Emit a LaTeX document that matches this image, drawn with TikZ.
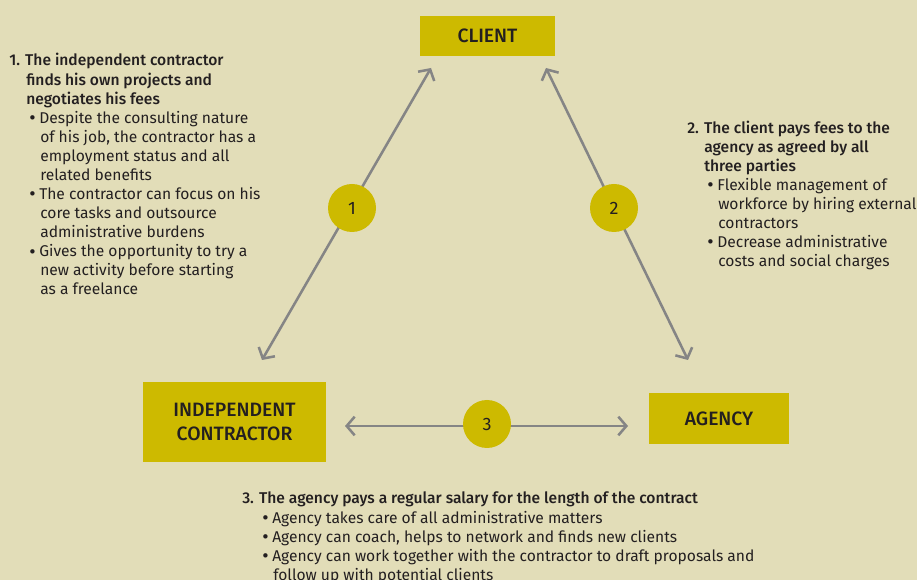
\documentclass[tikz,border=0pt]{standalone}
\usepackage{fontspec}
\setmainfont{Fira Sans}[BoldFont={Fira Sans Medium}]
\usetikzlibrary{arrows.meta}
\definecolor{bg}{RGB}{226,221,184}
\definecolor{boxc}{RGB}{205,186,0}
\definecolor{lnc}{RGB}{133,133,133}
\definecolor{txc}{RGB}{35,31,32}
\newcommand{\hdin}{\hspace*{12.75pt}}
\newcommand{\bul}{\hspace*{15pt}\makebox[7.5pt][l]{\raisebox{-0.09em}{\scalebox{1.25}{•}}}}
\newcommand{\cnt}{\hspace*{23.25pt}}
\begin{document}
\begin{tikzpicture}[x=0.75pt,y=-0.75pt,
  boxnode/.style={fill=boxc, text=txc, font=\fontsize{14.5}{18}\selectfont\bfseries, align=center, inner sep=0pt},
  numnode/.style={circle, fill=boxc, minimum size=36pt, inner sep=0pt, font=\fontsize{13.5}{15}\selectfont, text=txc},
  conn/.style={draw=lnc, line width=1.9pt, {Straight Barb[length=6pt,width=14pt]}-{Straight Barb[length=6pt,width=14pt]}},
  txt/.style={anchor=base west, align=left, inner sep=0pt, text=txc, font=\fontsize{11.7}{14.3}\selectfont}]
\fill[bg] (0,0) rectangle (917,580);
\useasboundingbox (0,0) rectangle (917,580);

\node[boxnode, minimum width=101.25pt, minimum height=30pt] (client) at (487.5,36) {CLIENT};
\node[boxnode, minimum width=137.25pt, minimum height=60pt] (ic) at (234.5,422) {INDEPENDENT\\CONTRACTOR};
\node[boxnode, minimum width=105pt, minimum height=38.25pt] (agency) at (719,418.5) {AGENCY};

\coordinate (a1s) at (262,360);
\coordinate (a1e) at (431,68);
\coordinate (a2s) at (546,68);
\coordinate (a2e) at (688,360);
\coordinate (a3s) at (345,426);
\coordinate (a3e) at (628,426);
\draw[conn] (a1s) -- (a1e);
\draw[conn] (a2s) -- (a2e);
\draw[conn] (a3s) -- (a3e);

\node[numnode] (n1) at (352,208) {1};
\node[numnode] (n2) at (614,208) {2};
\node[numnode] (n3) at (487,424) {3};

% anchor base west = baseline of the last line
\node[txt] (t1) at (9,294.8) {\textbf{1. The independent contractor}\\
\hdin\textbf{finds his own projects and}\\
\hdin\textbf{negotiates his fees}\\
\bul Despite the consulting nature\\
\cnt of his job, the contractor has a\\
\cnt employment status and all\\
\cnt related benefits\\
\bul The contractor can focus on his\\
\cnt core tasks and outsource\\
\cnt administrative burdens\\
\bul Gives the opportunity to try a\\
\cnt new activity before starting\\
\cnt as a freelance};

\node[txt] (t2) at (687,266.5) {\textbf{2. The client pays fees to the}\\
\hdin\textbf{agency as agreed by all}\\
\hdin\textbf{three parties}\\
\bul Flexible management of\\
\cnt workforce by hiring external\\
\cnt contractors\\
\bul Decrease administrative\\
\cnt costs and social charges};

\node[txt] (t3) at (242,580.6) {\textbf{3. The agency pays a regular salary for the length of the contract}\\[1pt]
\bul Agency takes care of all administrative matters\\
\bul Agency can coach, helps to network and finds new clients\\
\bul Agency can work together with the contractor to draft proposals and\\
\cnt follow up with potential clients};
\end{tikzpicture}
\end{document}
